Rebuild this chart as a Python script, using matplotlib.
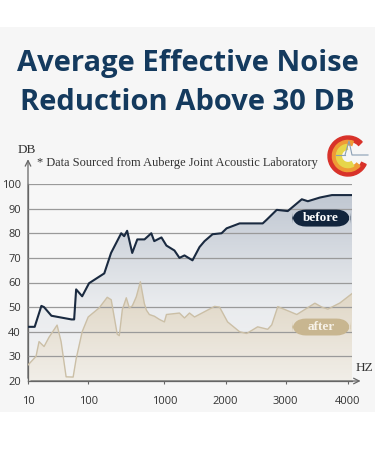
import numpy as np
import matplotlib.pyplot as plt
from matplotlib.patches import FancyBboxPatch, Wedge, Rectangle
from matplotlib.colors import LinearSegmentedColormap

# tick frequencies and their (uneven) spacing on the chart
freq_ticks = [10, 100, 1000, 2000, 3000, 4000]
tick_labels = ['10', '100', '1000', '2000', '3000', '4000']
tick_pos = [0, 60, 136, 197, 257, 319]

# "before" curve (Hz, dB)
before_hz = [10, 20, 30, 34, 45, 75, 79, 82, 91, 110, 290, 370, 490, 525, 560, 620, 680, 765,
             845, 880, 965, 1033, 1164, 1246, 1328, 1459, 1574, 1656, 1787, 1934, 2017, 2233,
             2617, 2683, 2850, 3032, 3258, 3355, 3548, 3742, 4065]
before_db = [42, 42, 50.5, 50, 46.5, 45, 45, 57.2, 54.4, 59.7, 63.7, 72, 80, 78.8, 81, 72, 77.5, 77.5,
             80, 76.8, 78.3, 75, 73, 70, 71, 69, 74.4, 76.8, 79.6, 80, 82, 84,
             84, 85.5, 89.5, 89, 93.8, 93, 94.5, 95.5, 95.5]

# "after" curve (Hz, dB)
after_hz = [10, 22, 26.5, 34, 41.5, 53.5, 59.5, 67, 77.5, 82, 91, 100, 230, 325, 372, 443, 467, 491,
            503, 550, 586, 621, 668, 716, 763, 787, 822, 882, 941, 1000, 1033, 1246, 1328, 1410,
            1492, 1820, 1902, 2033, 2233, 2350, 2533, 2700, 2767, 2867, 3065, 3177, 3468, 3581,
            3677, 3871, 4065]
after_db = [26.5, 30, 36, 34, 37.8, 42.7, 36, 21.7, 21.6, 29, 40, 46, 49.7, 54, 53, 39, 38.4, 45.4,
            49, 53.8, 49.7, 50.5, 54.2, 60.3, 51.5, 48.8, 47, 46.3, 45, 44, 47, 47.6, 45.6, 47.6,
            46, 50.3, 50, 44, 40, 39.3, 42, 41, 42.8, 50.2, 48.2, 47, 51.6, 50,
            49.2, 51.7, 55.5]

y_ticks = [20, 30, 40, 50, 60, 70, 80, 90, 100]

navy = '#143a5e'
line_dark = '#1a2a40'
tan = '#cbbfa6'

map_f = freq_ticks + [5000]
map_p = tick_pos + [381]


def fwd(x):
    return np.interp(x, map_f, map_p)


def inv(p):
    return np.interp(p, map_p, map_f)


fig = plt.figure(figsize=(3.75, 4.5), dpi=100)
fig.patch.set_facecolor('white')
# light grey panel behind title and chart
fig.patches.append(Rectangle((0, 38 / 450), 1, 385 / 450, transform=fig.transFigure,
                             fc='#f6f6f6', ec='none', zorder=-10))

fig.text(0.5, 1 - 63 / 450, 'Average Effective Noise', ha='center', va='center',
         fontsize=21, fontweight='bold', family='Open Sans', color=navy)
fig.text(0.5, 1 - 103 / 450, 'Reduction Above 30 DB', ha='center', va='center',
         fontsize=21, fontweight='bold', family='Open Sans', color=navy)

ax = fig.add_axes([28 / 375, 69 / 450, 324 / 375, 197 / 450])
ax.set_facecolor('#f7f7f7')
ax.set_xscale('function', functions=(fwd, inv))
ax.set_xlim(10, 4065)
ax.set_ylim(20, 100)


def grad_fill(x, y, stops, z):
    poly = ax.fill_between(x, y, 20, color='none', lw=0)
    cmap = LinearSegmentedColormap.from_list('g', stops)
    grad = np.linspace(0, 1, 256).reshape(-1, 1)
    im = ax.imshow(grad, cmap=cmap, origin='lower', aspect='auto',
                   extent=[0, 1, 0, 1], transform=ax.transAxes, zorder=z)
    im.set_clip_path(poly.get_paths()[0], transform=ax.transData)


grad_fill(before_hz, before_db, [(0, '#f4f4f4'), (0.4, '#e9ebee'), (1, '#bcc4cf')], 1)
grad_fill(after_hz, after_db, [(0, '#f1eee8'), (0.45, '#e0d7c6'), (1, '#d8cdb8')], 2)
ax.set_xlim(10, 4065)
ax.set_ylim(20, 100)

for yv in y_ticks[1:]:
    ax.axhline(yv, color='#9a9a9a', lw=0.9, zorder=3)

ax.plot(after_hz, after_db, color=tan, lw=1.0, zorder=4)
ax.plot(before_hz, before_db, color=line_dark, lw=1.5, zorder=5)

for s in ['top', 'right']:
    ax.spines[s].set_visible(False)
for s in ['left', 'bottom']:
    ax.spines[s].set_color('#666666')
    ax.spines[s].set_linewidth(0.9)

ax.set_yticks(y_ticks)
ax.set_yticklabels([str(v) for v in y_ticks], fontsize=8, color='#333333', family='Open Sans')
ax.set_xticks(freq_ticks)
ax.set_xticklabels(tick_labels, fontsize=8, color='#333333', family='Open Sans')
ax.tick_params(axis='y', length=0, pad=5)
ax.tick_params(axis='x', length=4, direction='inout', color='#666666', pad=9)

ax.annotate('', xy=(1.035, 0), xycoords='axes fraction', xytext=(0, 0),
            arrowprops=dict(arrowstyle='->', color='#666666', lw=0.9), annotation_clip=False)
ax.annotate('', xy=(0, 1.14), xycoords='axes fraction', xytext=(0, 0),
            arrowprops=dict(arrowstyle='->', color='#666666', lw=0.9), annotation_clip=False)

fig.text(27 / 375, 1 - 150 / 450, 'DB', ha='center', va='center', fontsize=9.5,
         family='Liberation Serif', color='#333333')
fig.text(373 / 375, 1 - 368 / 450, 'HZ', ha='right', va='center', fontsize=9.5,
         family='Liberation Serif', color='#333333')
fig.text(37 / 375, 1 - 163 / 450, '* Data Sourced from Auberge Joint Acoustic Laboratory',
         ha='left', va='center', fontsize=8.9, family='Liberation Serif', color='#333333')

# legend pills
for label, yc, fc, tc in [('before', 0.827, '#11243c', 'white'), ('after', 0.274, '#c8b690', '#f7f2e8')]:
    ax.add_patch(FancyBboxPatch((0.815, yc - 0.043), 0.18, 0.086,
                                boxstyle='round,pad=0,rounding_size=0.043',
                                transform=ax.transAxes, fc=fc, ec='none', zorder=6, clip_on=False,
                                mutation_aspect=324 / 197))
    ax.text(0.905, yc, label, transform=ax.transAxes, ha='center', va='center', fontsize=9.5,
            fontweight='bold', family='Liberation Serif', color=tc, zorder=7)

# logo
lax = fig.add_axes([326 / 375, 1 - 178 / 450, 44 / 375, 44 / 450])
lax.set_xlim(-1.1, 1.1)
lax.set_ylim(-1.1, 1.1)
lax.set_aspect('equal')
lax.axis('off')
lax.add_patch(Wedge((0, 0), 1.0, 45, 335, width=0.25, color='#d8322a'))
lax.add_patch(Wedge((0, 0), 0.78, 70, 320, width=0.22, color='#ef9a36'))
lax.add_patch(Wedge((0, 0), 0.58, 95, 300, width=0.25, color='#e6d64a'))
lax.plot([-0.15, 0.05, 0.2, 1.0], [0.05, 0.75, 0.05, 0.05], color='#8a9fb5', lw=0.8)
lax.plot([-0.6, -0.15], [0.05, 0.05], color='#8a9fb5', lw=0.8)

fig.savefig('out.png', dpi=100, facecolor=fig.get_facecolor())
